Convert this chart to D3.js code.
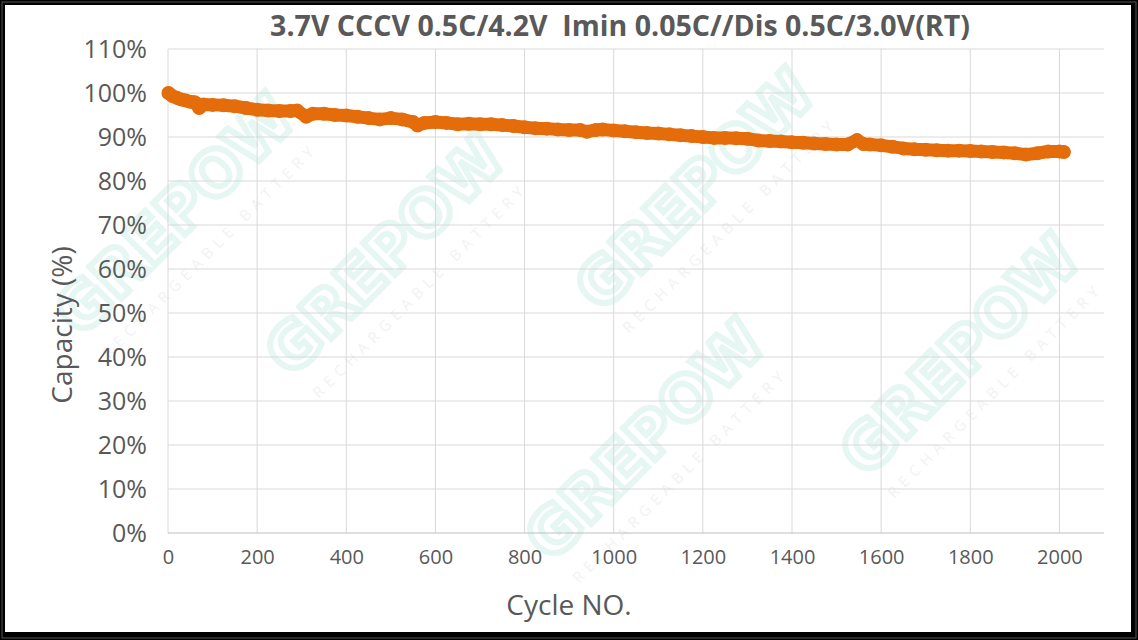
<!DOCTYPE html>
<html><head><meta charset="utf-8">
<script src="https://cdn.jsdelivr.net/npm/d3@7/dist/d3.min.js"></script>
<style>
html,body{margin:0;padding:0;background:#fff;}
svg{display:block;}
text{font-family:"Open Sans",sans-serif;}
</style></head>
<body>
<svg id="chart" width="1138" height="640"></svg>
<script>
const titleText = "3.7V CCCV 0.5C/4.2V  Imin 0.05C//Dis 0.5C/3.0V(RT)";
const xTitle = "Cycle NO.";
const yTitle = "Capacity (%)";
const xTicks = [0,200,400,600,800,1000,1200,1400,1600,1800,2000];
const yTicks = [0,10,20,30,40,50,60,70,80,90,100,110];
const cycles = [1,10,20,30,40,50,60,70,80,100,125,150,175,200,225,250,275,290,310,325,350,375,400,425,450,475,500,525,550,560,575,600,625,650,675,700,725,750,775,800,825,850,875,900,925,940,960,975,1000,1025,1050,1075,1100,1125,1150,1175,1200,1225,1250,1275,1300,1325,1350,1375,1400,1425,1450,1475,1500,1525,1546,1560,1575,1600,1625,1650,1675,1700,1725,1750,1775,1800,1825,1850,1875,1900,1925,1950,1975,2000,2010];
const capacity = [100.0,99.3,98.9,98.5,98.3,98.0,97.9,96.6,97.4,97.3,97.2,97.0,96.6,96.2,96.0,95.9,95.9,96.0,94.6,95.3,95.3,95.0,94.9,94.6,94.3,94.0,94.3,94.0,93.4,92.6,93.2,93.4,93.2,92.9,93.0,92.9,92.9,92.7,92.5,92.2,92.0,91.9,91.7,91.6,91.6,91.2,91.6,91.7,91.5,91.3,91.1,90.9,90.8,90.6,90.4,90.2,90.0,89.8,89.8,89.7,89.6,89.2,89.1,89.0,88.8,88.7,88.5,88.4,88.3,88.3,89.3,88.4,88.3,88.1,87.8,87.4,87.2,87.1,87.0,86.9,86.9,86.8,86.7,86.6,86.5,86.3,86.0,86.3,86.7,86.7,86.6];
const watermarkText = "GREPOW";
const watermarkSub = "RECHARGEABLE BATTERY";

const W = 1138, H = 640;
const svg = d3.select("#chart");
const margin = {left:168, right:1104, top:49, bottom:533};
const x = d3.scaleLinear().domain([0,2100]).range([margin.left, margin.right]);
const y = d3.scaleLinear().domain([0,110]).range([margin.bottom, margin.top]);

// frame
svg.append("rect").attr("x",0).attr("y",0).attr("width",W).attr("height",H).attr("fill","#000");
svg.append("rect").attr("x",2).attr("y",2).attr("width",W-4).attr("height",H-4).attr("fill","none").attr("stroke","#555").attr("stroke-width",1);
svg.append("rect").attr("x",5).attr("y",5).attr("width",1126).attr("height",627).attr("fill","#fff");

// watermark (faint)
const wm = svg.append("g").attr("pointer-events","none");
const wmPos = [[190,230],[400,270],[710,205],[975,370],[660,455]];
wmPos.forEach(([cx,cy])=>{
  const g = wm.append("g").attr("transform",`translate(${cx},${cy}) rotate(-45)`);
  g.append("text").attr("text-anchor","middle").attr("y",0)
    .style("font-family","DejaVu Sans, sans-serif").style("font-weight","bold")
    .style("font-size","62px").attr("fill","none").attr("stroke","#e6f6f2").attr("stroke-width",6)
    .text(watermarkText);
  g.append("text").attr("text-anchor","middle").attr("y",34)
    .style("font-size","15px").attr("fill","#f0f3f2").attr("letter-spacing","6")
    .text(watermarkSub);
});

// gridlines
const grid = svg.append("g");
grid.selectAll("line.h").data(yTicks.filter(d=>d>0)).join("line")
  .attr("x1",x(0)).attr("x2",margin.right).attr("y1",d=>y(d)).attr("y2",d=>y(d))
  .attr("stroke","#d9d9d9").attr("stroke-width",1);
grid.selectAll("line.v").data(xTicks.filter(d=>d>0)).join("line")
  .attr("x1",d=>x(d)).attr("x2",d=>x(d)).attr("y1",y(110)).attr("y2",y(0))
  .attr("stroke","#d9d9d9").attr("stroke-width",1);
grid.append("line").attr("x1",x(0)).attr("x2",x(0)).attr("y1",y(110)).attr("y2",y(0)).attr("stroke","#d9d9d9");
grid.append("line").attr("x1",x(0)).attr("x2",margin.right).attr("y1",y(0)).attr("y2",y(0)).attr("stroke","#bfbfbf");

// axes labels
const yAxis = d3.axisLeft(y).tickValues(yTicks).tickFormat(d=>d+"%").tickSize(0).tickPadding(21);
const ya = svg.append("g").attr("transform",`translate(${x(0)},0)`).call(yAxis);
ya.select(".domain").remove();
ya.selectAll("text").style("font-size","25px").attr("fill","#595959").attr("dy","0.35em");

const xAxis = d3.axisBottom(x).tickValues(xTicks).tickFormat(d3.format("d")).tickSize(0).tickPadding(17);
const xa = svg.append("g").attr("transform",`translate(0,${y(0)})`).call(xAxis);
xa.select(".domain").remove();
xa.selectAll("text").style("font-size","20px").attr("fill","#595959");

// data
const pts = cycles.map((c,i)=>[c,capacity[i]]);
const line = d3.line().x(d=>x(d[0])).y(d=>y(d[1])).curve(d3.curveLinear);
svg.append("path").datum(pts).attr("d",line).attr("fill","none")
  .attr("stroke","#e46c0a").attr("stroke-width",13).attr("stroke-linecap","round").attr("stroke-linejoin","round");
svg.selectAll("circle.pt").data(pts).join("circle").attr("class","pt")
  .attr("cx",d=>x(d[0])).attr("cy",d=>y(d[1])).attr("r",7).attr("fill","#e46c0a");

// titles
const t = svg.append("text").attr("x",620).attr("y",36).attr("text-anchor","middle")
  .attr("xml:space","preserve").style("white-space","pre")
  .style("font-size","24px").style("font-weight","bold").attr("fill","#595959").text(titleText);
const tl = t.node().getComputedTextLength();
t.style("font-size",(24*700/tl).toFixed(2)+"px");

svg.append("text").attr("x",569).attr("y",615).attr("text-anchor","middle")
  .style("font-size","28px").attr("fill","#595959").text(xTitle);
svg.append("text").attr("transform","translate(72,325) rotate(-90)").attr("text-anchor","middle")
  .style("font-size","28px").attr("fill","#595959").text(yTitle);
</script>
</body></html>
